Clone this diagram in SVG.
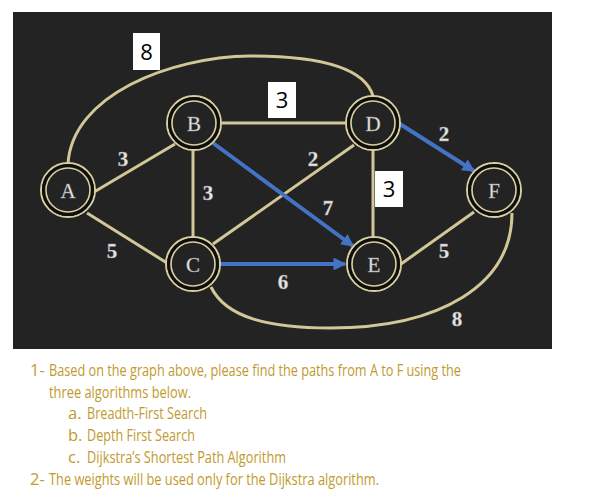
<svg xmlns="http://www.w3.org/2000/svg" width="598" height="492" viewBox="0 0 598 492">
<style>
.edge{fill:none;stroke:#d2c796;stroke-width:3}
.arrow{fill:none;stroke:#4472c4;stroke-width:4}
.ring{fill:#232323;stroke:#d9cf9f;stroke-width:2}
.inner{fill:none;stroke:#d9cf9f;stroke-width:1.6}
.gap{fill:none;stroke:#0e0e0e;stroke-width:3}
.nl{font-family:"Liberation Serif",serif;font-size:21px;fill:#e6e6e6;stroke:#9a9a9a;stroke-width:0.4;text-anchor:middle}
.wl{font-family:"Liberation Serif",serif;font-size:21px;font-weight:bold;fill:#e6e6e6;stroke:#9a9a9a;stroke-width:0.4;text-anchor:middle}
.box{fill:#ffffff}
.bl{font-family:"Open Sans","Liberation Sans",sans-serif;font-size:22px;fill:#000;text-anchor:middle}
.t{font-family:"Open Sans","Liberation Sans",sans-serif;font-size:16.5px;fill:#bf9a2e}
</style>
<defs>
<marker id="ah" viewBox="0 0 10 10" refX="9" refY="5" markerWidth="3.2" markerHeight="3.2" orient="auto" markerUnits="strokeWidth">
<path d="M0,0 L10,5 L0,10 z" fill="#4472c4"/>
</marker>
</defs>
<rect x="13" y="12" width="539" height="337" fill="#232323"/>
<g id="connectors">
<path class="edge" d="M68,164 C72,95 170,57 250,56 C330,56 366,72 373,96"/>
<path class="edge" d="M211,287 C226,318 270,328 330,328 C440,328 512,285 512,213"/>
<line class="edge" x1="94" y1="192" x2="175" y2="144"/>
<line class="edge" x1="87" y1="213" x2="167" y2="263"/>
<line class="edge" x1="222" y1="123" x2="346" y2="123"/>
<line class="edge" x1="193" y1="150" x2="193" y2="237"/>
<line class="edge" x1="213" y1="244" x2="354" y2="145"/>
<line class="edge" x1="373" y1="150" x2="373" y2="237"/>
<line class="edge" x1="401" y1="264" x2="474" y2="212"/>
<line class="arrow" x1="213" y1="143" x2="353" y2="246" marker-end="url(#ah)"/>
<line class="arrow" x1="400" y1="124" x2="474" y2="171" marker-end="url(#ah)"/>
<line class="arrow" x1="217" y1="264" x2="345" y2="264" marker-end="url(#ah)"/>
<rect class="box" x="133" y="33" width="27" height="37"/>
<text class="bl" x="146.5" y="60">8</text>
<rect class="box" x="268" y="82" width="28" height="36"/>
<text class="bl" x="282" y="108">3</text>
<rect class="box" x="375" y="171" width="28" height="36"/>
<text class="bl" x="389" y="197">3</text>
<text class="wl" x="123" y="166">3</text>
<text class="wl" x="112" y="258">5</text>
<text class="wl" x="208" y="200">3</text>
<text class="wl" x="313" y="166">2</text>
<text class="wl" x="328" y="215">7</text>
<text class="wl" x="444" y="141">2</text>
<text class="wl" x="283" y="289">6</text>
<text class="wl" x="444" y="258">5</text>
<text class="wl" x="457" y="326">8</text>
</g>
<g id="A"><circle class="ring" cx="68" cy="190" r="27"/><circle class="gap" cx="68" cy="190" r="24.5"/><circle class="inner" cx="68" cy="190" r="22"/><text class="nl" x="68" y="198">A</text></g>
<g id="B"><circle class="ring" cx="194" cy="123" r="27"/><circle class="gap" cx="194" cy="123" r="24.5"/><circle class="inner" cx="194" cy="123" r="22"/><text class="nl" x="194" y="131">B</text></g>
<g id="C"><circle class="ring" cx="193" cy="264" r="27"/><circle class="gap" cx="193" cy="264" r="24.5"/><circle class="inner" cx="193" cy="264" r="22"/><text class="nl" x="193" y="272">C</text></g>
<g id="D"><circle class="ring" cx="373" cy="123" r="27"/><circle class="gap" cx="373" cy="123" r="24.5"/><circle class="inner" cx="373" cy="123" r="22"/><text class="nl" x="373" y="131">D</text></g>
<g id="E"><circle class="ring" cx="374" cy="264" r="27"/><circle class="gap" cx="374" cy="264" r="24.5"/><circle class="inner" cx="374" cy="264" r="22"/><text class="nl" x="374" y="272">E</text></g>
<g id="F"><circle class="ring" cx="494" cy="190" r="27"/><circle class="gap" cx="494" cy="190" r="24.5"/><circle class="inner" cx="494" cy="190" r="22"/><text class="nl" x="494" y="198">F</text></g>
<g id="text">
<text class="t" x="30" y="376">1-</text>
<text class="t" x="49" y="376" textLength="412" lengthAdjust="spacingAndGlyphs">Based on the graph above, please find the paths from A to F using the</text>
<text class="t" x="49" y="398" textLength="142" lengthAdjust="spacingAndGlyphs">three algorithms below.</text>
<text class="t" x="68" y="419">a.</text>
<text class="t" x="87" y="419" textLength="120" lengthAdjust="spacingAndGlyphs">Breadth-First Search</text>
<text class="t" x="68" y="441">b.</text>
<text class="t" x="87" y="441" textLength="108" lengthAdjust="spacingAndGlyphs">Depth First Search</text>
<text class="t" x="68" y="463">c.</text>
<text class="t" x="87" y="463" textLength="199" lengthAdjust="spacingAndGlyphs">Dijkstra’s Shortest Path Algorithm</text>
<text class="t" x="30" y="485">2-</text>
<text class="t" x="49" y="485" textLength="330" lengthAdjust="spacingAndGlyphs">The weights will be used only for the Dijkstra algorithm.</text>
</g>
</svg>
